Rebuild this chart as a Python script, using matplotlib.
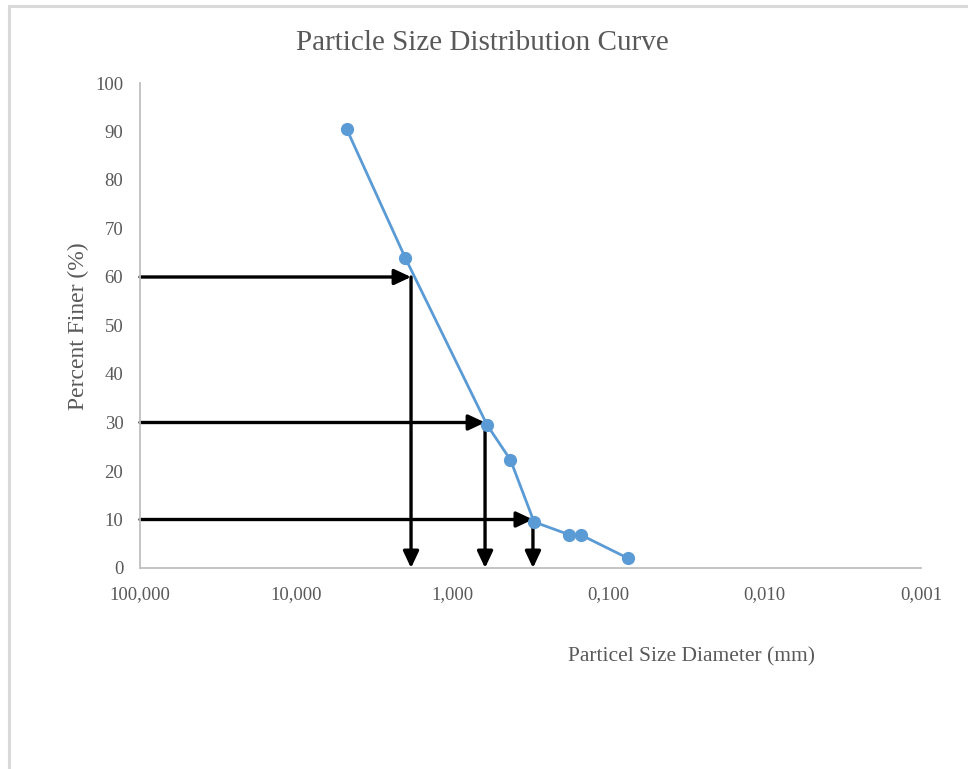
import matplotlib
matplotlib.use('Agg')
import matplotlib.pyplot as plt
from matplotlib.patches import Rectangle

# sieve data
diameter_mm = [4.75, 2.0, 0.6, 0.425, 0.3, 0.18, 0.15, 0.075]
percent_finer = [90.5, 63.9, 29.5, 22.3, 9.5, 6.9, 6.8, 2.0]

# D60, D30, D10 read-off lines
d_levels = [60, 30, 10]
d_values = [1.84, 0.618, 0.305]

x_ticks = [100, 10, 1, 0.1, 0.01, 0.001]
x_tick_labels = ["100,000", "10,000", "1,000", "0,100", "0,010", "0,001"]
y_ticks = list(range(0, 101, 10))

plt.rcParams['font.family'] = ['Liberation Serif', 'DejaVu Serif']

fig = plt.figure(figsize=(9.68, 7.69), dpi=100)
ax = fig.add_axes([140/968, 1 - 568/769, 781/968, 485/769])

# light frame around the chart
fig.add_artist(Rectangle((9/968, -0.05), 1.2, 1 - 6/769 + 0.05, transform=fig.transFigure,
                         fill=False, edgecolor='#D9D9D9', linewidth=2.2))

ax.plot(diameter_mm, percent_finer, color='#5B9BD5', linewidth=2, marker='o',
        markersize=8.5, markerfacecolor='#5B9BD5', markeredgecolor='#5B9BD5', zorder=3)

# arrows for D60, D30, D10
arrow = dict(arrowstyle='-|>,head_length=1.0,head_width=0.47', color='black', lw=2.4,
             shrinkA=0, shrinkB=0)
for lvl, d in zip(d_levels, d_values):
    ax.annotate('', xy=(d, lvl), xytext=(100, lvl), arrowprops=arrow, zorder=2)
    ax.annotate('', xy=(d, 0), xytext=(d, lvl), arrowprops=arrow, zorder=2)

ax.set_xscale('log')
ax.set_xlim(100, 0.001)
ax.set_ylim(0, 100)
ax.set_xticks(x_ticks)
ax.set_xticklabels(x_tick_labels)
ax.minorticks_off()
ax.set_yticks(y_ticks)

ax.tick_params(axis='both', length=0, labelsize=13.5, labelcolor='#595959')
ax.tick_params(axis='x', pad=13)
ax.tick_params(axis='y', pad=12)

for side in ['top', 'right']:
    ax.spines[side].set_visible(False)
for side in ['left', 'bottom']:
    ax.spines[side].set_color('#BFBFBF')
    ax.spines[side].set_linewidth(1.3)

fig.text(482/968, 1 - 43/769, "Particle Size Distribution Curve", ha='center', va='center',
         fontsize=21, color='#595959')
fig.text(78/968, 1 - 326/769, "Percent Finer (%)", ha='center', va='center', rotation=90,
         fontsize=17, color='#595959')
fig.text(692/968, 1 - 657/769, "Particel Size Diameter (mm)", ha='center', va='center',
         fontsize=15.5, color='#595959')

fig.savefig('out.png', dpi=100)
